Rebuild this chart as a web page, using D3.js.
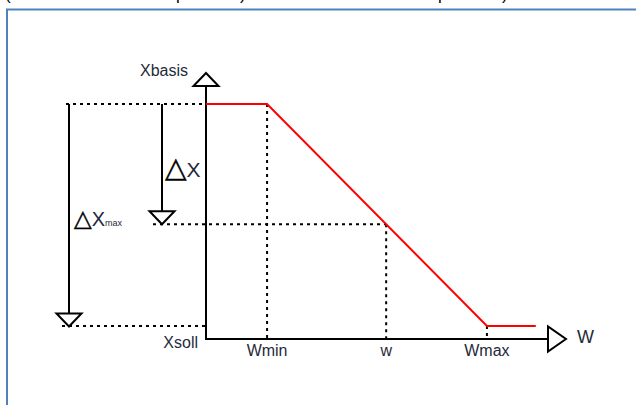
<!DOCTYPE html>
<html>
<head>
<meta charset="utf-8">
<script src="https://cdn.jsdelivr.net/npm/d3@7"></script>
<style>
  html, body { margin: 0; padding: 0; background: #fff; overflow: hidden; }
  text { font-family: Arial, "Liberation Sans", sans-serif; fill: #1f2a3a; }
</style>
</head>
<body>
<div id="output"></div>
<script>
// characteristic: X falls linearly from Xbasis to Xsoll between Wmin and Wmax
const wTicks = [
  {name: "Wmin", w: 1.0},
  {name: "w", w: 2.95},
  {name: "Wmax", w: 4.6}
];
const curveW = [0, 1.0, 4.6, 5.4];
const curveX = [1, 1, 0, 0];
const xLevels = [{name: "Xbasis", x: 1}, {name: "Xsoll", x: 0}];
// cut-off caption glyphs on the top edge
const captionBits = [
  {t: "(", x: 5}, {t: "p", x: 176}, {t: ")", x: 240}, {t: "p", x: 438}, {t: ")", x: 502}
];

const width = 636, height = 405;

const x = d3.scaleLinear().domain([0, 5.6]).range([206, 548]);
const y = d3.scaleLinear().domain([0, 1]).range([326, 104]);
const xOrigin = x(0), yOrigin = y(-0.0586);

const svg = d3.select("#output").append("svg")
    .attr("width", width)
    .attr("height", height);

// frame
svg.append("path")
    .attr("d", `M7,${height + 5}V9.5H${width + 5}`)
    .attr("fill", "none")
    .attr("stroke", "#4f81bd")
    .attr("stroke-width", 2);

svg.append("g").selectAll("text")
    .data(captionBits)
    .join("text")
    .attr("x", d => d.x)
    .attr("y", -0.5)
    .style("font-size", "17px")
    .style("fill", "#000")
    .text(d => d.t);

function openArrow(tipX, tipY, dir) {
  // open triangle arrow head, dir: up/down/right
  const h = 13, s = 12.5;
  if (dir === "up") return `M${tipX},${tipY}L${tipX + s},${tipY + h}H${tipX - s}Z`;
  if (dir === "down") return `M${tipX},${tipY}L${tipX + s},${tipY - h}H${tipX - s}Z`;
  return `M${tipX},${tipY}L${tipX - 18},${tipY + s}V${tipY - s}Z`;
}

const interp = (w) => {
  for (let i = 1; i < curveW.length; i++) {
    if (w <= curveW[i]) {
      const t = (w - curveW[i - 1]) / (curveW[i] - curveW[i - 1]);
      return curveX[i - 1] + t * (curveX[i] - curveX[i - 1]);
    }
  }
  return curveX[curveX.length - 1];
};

const dotted = svg.append("g")
    .attr("stroke", "#000")
    .attr("stroke-width", 2)
    .attr("stroke-dasharray", "3,4")
    .attr("fill", "none");

// horizontal guides
const wSel = wTicks.find(d => d.name === "w");
dotted.append("line").attr("x1", 66).attr("x2", xOrigin).attr("y1", y(1)).attr("y2", y(1));
dotted.append("line").attr("x1", 62).attr("x2", xOrigin).attr("y1", y(0)).attr("y2", y(0));
dotted.append("line").attr("x1", 153).attr("x2", x(wSel.w))
    .attr("y1", y(interp(wSel.w))).attr("y2", y(interp(wSel.w)));

// vertical guides
dotted.selectAll(".vg")
    .data(wTicks)
    .join("line")
    .attr("class", "vg")
    .attr("x1", d => x(d.w)).attr("x2", d => x(d.w))
    .attr("y1", d => y(interp(d.w))).attr("y2", yOrigin);

// delta arrows
const arrows = svg.append("g").attr("stroke", "#000").attr("stroke-width", 2);
arrows.append("line").attr("x1", 69).attr("x2", 69).attr("y1", y(1)).attr("y2", y(0) - 13);
arrows.append("path").attr("d", openArrow(69, y(0) + 0.5, "down")).attr("fill", "#fff");
const dX = 1 - interp(wSel.w);
arrows.append("line").attr("x1", 162).attr("x2", 162).attr("y1", y(1)).attr("y2", y(1 - dX) - 13);
arrows.append("path").attr("d", openArrow(162, y(1 - dX), "down")).attr("fill", "#fff");

// axes
const axes = svg.append("g").attr("stroke", "#000").attr("stroke-width", 2).attr("fill", "#fff");
axes.append("path")
    .attr("d", `M${xOrigin},86V${yOrigin}H${x(5.6) - 1}`)
    .attr("fill", "none");
axes.append("path").attr("d", openArrow(xOrigin, 73, "up"));
axes.append("path").attr("d", openArrow(x(5.6) + 18, yOrigin, "right"));

// characteristic line
svg.append("path")
    .datum(d3.zip(curveW, curveX))
    .attr("fill", "none")
    .attr("stroke", "#ff0000")
    .attr("stroke-width", 2)
    .attr("d", d3.line().x(d => x(d[0])).y(d => y(d[1])));

// labels
svg.append("g").selectAll("text")
    .data(wTicks)
    .join("text")
    .attr("x", d => x(d.w))
    .attr("y", yOrigin + 17)
    .attr("text-anchor", "middle")
    .style("font-size", "16px")
    .text(d => d.name);

svg.append("text").attr("x", 188).attr("y", 76).attr("text-anchor", "end")
    .style("font-size", "16px").text(xLevels[0].name);
svg.append("text").attr("x", 198).attr("y", 348).attr("text-anchor", "end")
    .style("font-size", "16px").text(xLevels[1].name);
svg.append("text").attr("x", 577).attr("y", 343)
    .style("font-size", "18px").text("W");

const tri = sel => sel.style("font-family", "DejaVu Sans").style("fill", "#000")
    .style("stroke", "#000").style("stroke-width", "0.4px").text("△");
const d1 = svg.append("text").attr("x", 165).attr("y", 177);
d1.append("tspan").style("font-size", "28px").call(tri);
d1.append("tspan").style("font-size", "21px").text("X");
const dm = svg.append("text").attr("x", 74).attr("y", 226);
dm.append("tspan").style("font-size", "23px").call(tri);
dm.append("tspan").style("font-size", "20px").text("X");
dm.append("tspan").style("font-size", "9px").text("max");
</script>
</body>
</html>
